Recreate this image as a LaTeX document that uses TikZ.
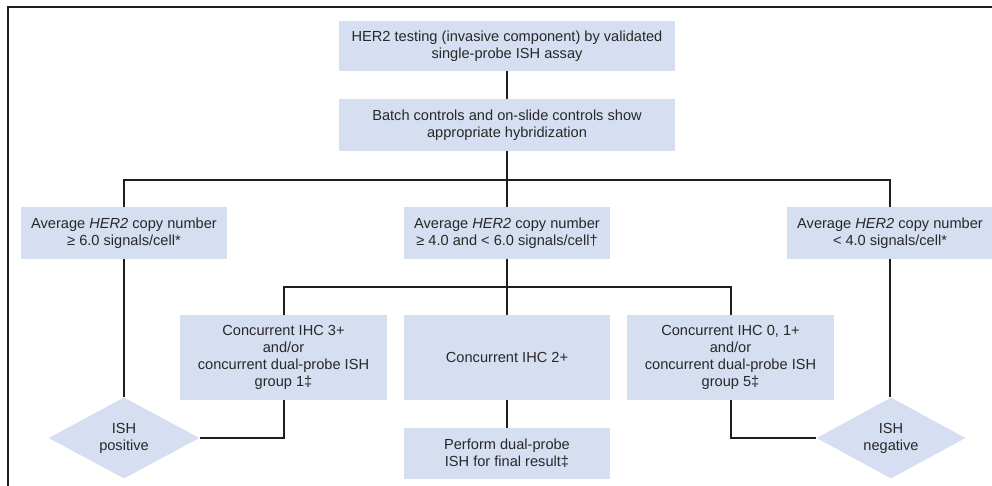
\documentclass[tikz,border=0pt]{standalone}
\usepackage{fontspec}
\setmainfont{Liberation Sans}
\usetikzlibrary{shapes.geometric}
\definecolor{boxblue}{RGB}{214,222,242}
\definecolor{txtgray}{RGB}{40,40,40}
\definecolor{linegray}{RGB}{30,30,30}
\tikzset{
  box/.style={rectangle, fill=boxblue, text=txtgray, align=center, inner sep=0pt,
    font=\fontsize{14.6}{17}\selectfont},
  dia/.style={diamond, fill=boxblue, text=txtgray, align=center, inner sep=0pt,
    shape aspect=1.86, font=\fontsize{14.6}{17}\selectfont},
  conn/.style={draw=linegray, line width=2pt},
  frame/.style={draw=linegray, line width=2pt}
}
\begin{document}
\begin{tikzpicture}[x=1pt,y=-1pt]
\useasboundingbox (0,0) rectangle (992,486);
% frame
\coordinate (fbl) at (8,486);
\coordinate (ftl) at (8,7);
\coordinate (ftr) at (992,7);
\draw[frame] (fbl) -- (ftl) -- (ftr);
% nodes
\node[box, minimum width=336pt, minimum height=50pt] (top) at (507,46)
  {HER2 testing (invasive component) by validated\\single-probe ISH assay};
\node[box, minimum width=336pt, minimum height=52pt] (batch) at (507,125)
  {Batch controls and on-slide controls show\\appropriate hybridization};
\node[box, minimum width=206pt, minimum height=52pt] (la) at (124,233)
  {Average \textit{HER2} copy number\\≥ 6.0 signals/cell*};
\node[box, minimum width=206pt, minimum height=52pt] (ma) at (507,233)
  {Average \textit{HER2} copy number\\≥ 4.0 and < 6.0 signals/cell†};
\node[box, minimum width=206pt, minimum height=52pt] (ra) at (890,233)
  {Average \textit{HER2} copy number\\< 4.0 signals/cell*};
\node[box, minimum width=207pt, minimum height=85pt] (l4) at (283.5,357.5)
  {Concurrent IHC 3+\\and/or\\concurrent dual-probe ISH\\group 1‡};
\node[box, minimum width=206pt, minimum height=85pt] (m4) at (507,357.5)
  {Concurrent IHC 2+};
\node[box, minimum width=207pt, minimum height=85pt] (r4) at (730.5,357.5)
  {Concurrent IHC 0, 1+\\and/or\\concurrent dual-probe ISH\\group 5‡};
\node[box, minimum width=206pt, minimum height=51pt] (fin) at (507,453.5)
  {Perform dual-probe\\ISH for final result‡};
\node[dia, minimum width=151pt, minimum height=81pt] (pos) at (124,438)
  {ISH\\positive};
\node[dia, minimum width=149pt, minimum height=81pt] (neg) at (891,438)
  {ISH\\negative};
% buses
\coordinate (bus1) at (507,180);
\coordinate (bus2) at (507,287);
% connectors
\draw[conn] (top) -- (batch);
\draw[conn] (batch) -- (ma);
\draw[conn] (la.north) |- (bus1) -| (ra.north);
\draw[conn] (ma) -- (m4);
\draw[conn] (l4.north) |- (bus2) -| (r4.north);
\draw[conn] (m4) -- (fin);
\draw[conn] (la) -- (pos);
\draw[conn] (ra.south) -- (ra.south |- neg.north);
\draw[conn] (l4.south) |- (pos.east);
\draw[conn] (r4.south) |- (neg.west);
\end{tikzpicture}
\end{document}
